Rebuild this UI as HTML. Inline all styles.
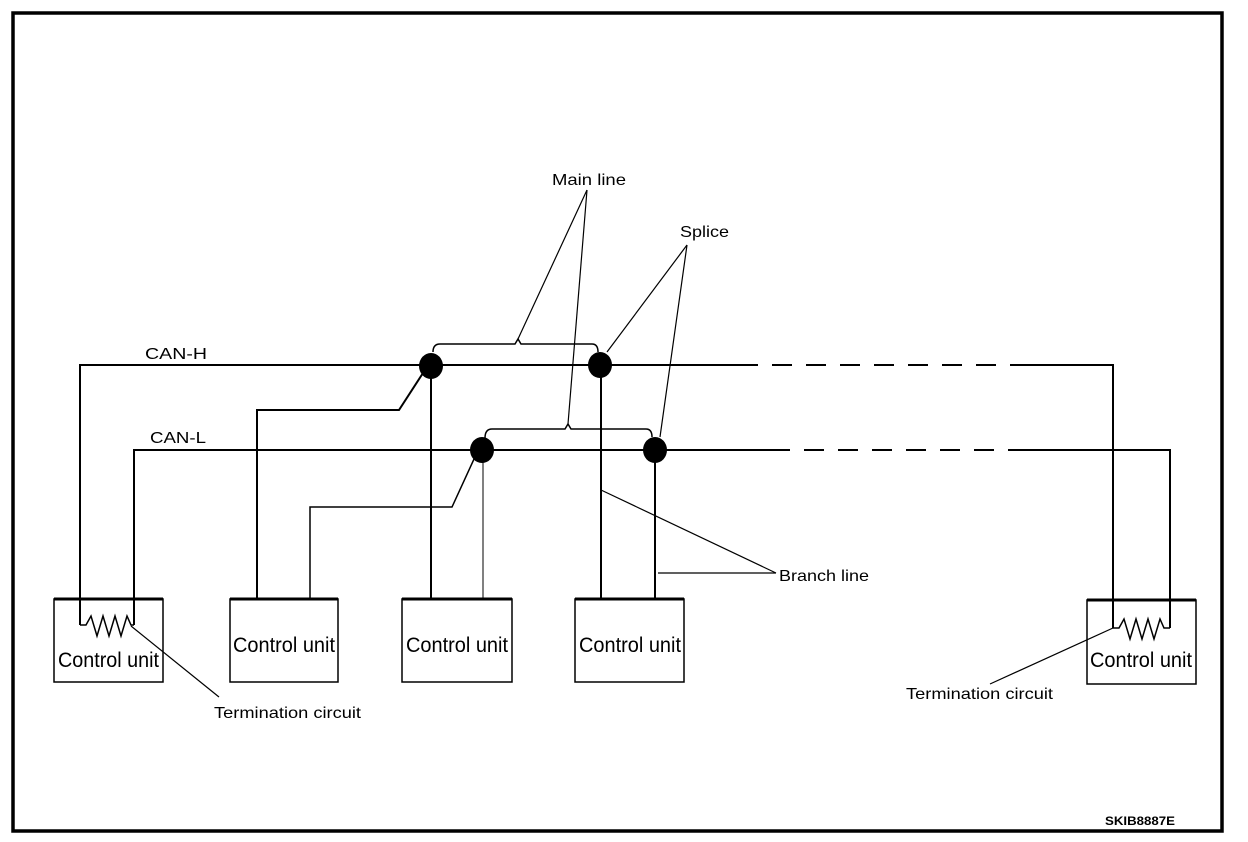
<!DOCTYPE html>
<html><head><meta charset="utf-8"><style>
html,body{margin:0;padding:0;background:#fff;}
svg{display:block;}
text{font-family:"Liberation Sans",Arial,sans-serif;fill:#000;}
</style></head><body>
<svg width="1248" height="842" viewBox="0 0 1248 842" xmlns="http://www.w3.org/2000/svg">
<rect x="13" y="13" width="1209" height="818" fill="none" stroke="#000" stroke-width="3.5"/>
<g stroke="#000" fill="none">
<polyline points="80,625 80,365 738,365" stroke-width="2"/>
<line x1="738" y1="365" x2="1020" y2="365" stroke-width="2" stroke-dasharray="20,14"/>
<polyline points="1020,365 1113,365 1113,628" stroke-width="2"/>
<polyline points="134,625 134,450 770,450" stroke-width="2"/>
<line x1="770" y1="450" x2="1025" y2="450" stroke-width="2" stroke-dasharray="20,14"/>
<polyline points="1025,450 1170,450 1170,628" stroke-width="2"/>
<polyline points="80,625 86,625 91,616 97,636 103,616 109,636 115,616 121,636 127,616 131,625 134,625" stroke-width="1.5"/>
<polyline points="1113,628 1119,628 1124,619 1130,639 1136,619 1142,639 1148,619 1154,639 1160,619 1164,628 1170,628" stroke-width="1.5"/>
<rect x="54" y="599" width="109" height="83" stroke-width="1.5"/>
<rect x="230" y="599" width="108" height="83" stroke-width="1.5"/>
<rect x="402" y="599" width="110" height="83" stroke-width="1.5"/>
<rect x="575" y="599" width="109" height="83" stroke-width="1.5"/>
<rect x="1087" y="600" width="109" height="84" stroke-width="1.5"/>
<g stroke-width="3">
<line x1="54" y1="599" x2="163" y2="599"/><line x1="230" y1="599" x2="338" y2="599"/>
<line x1="402" y1="599" x2="512" y2="599"/><line x1="575" y1="599" x2="684" y2="599"/>
<line x1="1087" y1="600" x2="1196" y2="600"/>
</g>
<polyline points="257,599 257,410 399,410 423,373" stroke-width="2"/>
<polyline points="310,599 310,507 452,507 474,459" stroke-width="1.5"/>
<line x1="431" y1="365" x2="431" y2="599" stroke-width="2"/>
<line x1="483" y1="450" x2="483" y2="599" stroke-width="1"/>
<line x1="601" y1="365" x2="601" y2="599" stroke-width="2"/>
<line x1="655" y1="450" x2="655" y2="599" stroke-width="2"/>
<path d="M433,352 Q433,344 440,344 L515,344 L518,339 L521,344 L592,344 Q598,344 598,352" stroke-width="1.5"/>
<path d="M485,438 Q485,429 492,429 L565,429 L568,424 L571,429 L646,429 Q652,429 652,437" stroke-width="1.5"/>
<g stroke-width="1.2">
<line x1="587" y1="190" x2="518" y2="339"/>
<line x1="587" y1="190" x2="568" y2="424"/>
<line x1="687" y1="245" x2="607" y2="352"/>
<line x1="687" y1="245" x2="660" y2="437"/>
<line x1="601" y1="490" x2="776" y2="573"/>
<line x1="658" y1="573" x2="776" y2="573"/>
<line x1="131" y1="626" x2="219" y2="697"/>
<line x1="1113" y1="628" x2="990" y2="684"/>
</g>
</g>
<g fill="#000">
<ellipse cx="431" cy="366" rx="12" ry="13"/>
<ellipse cx="600" cy="365" rx="12" ry="13"/>
<ellipse cx="482" cy="450" rx="12" ry="13"/>
<ellipse cx="655" cy="450" rx="12" ry="13"/>
</g>
<g font-size="16" lengthAdjust="spacingAndGlyphs">
<text x="145" y="359" textLength="62" lengthAdjust="spacingAndGlyphs">CAN-H</text>
<text x="150" y="443" textLength="56" lengthAdjust="spacingAndGlyphs">CAN-L</text>
<text x="552" y="185" textLength="74" lengthAdjust="spacingAndGlyphs">Main line</text>
<text x="680" y="237" textLength="49" lengthAdjust="spacingAndGlyphs">Splice</text>
<text x="779" y="581" textLength="90" lengthAdjust="spacingAndGlyphs">Branch line</text>
<text x="214" y="718" textLength="147" lengthAdjust="spacingAndGlyphs">Termination circuit</text>
<text x="906" y="699" textLength="147" lengthAdjust="spacingAndGlyphs">Termination circuit</text>
</g>
<g font-size="21">
<text x="58" y="667" textLength="101" lengthAdjust="spacingAndGlyphs">Control unit</text>
<text x="233" y="652" textLength="102" lengthAdjust="spacingAndGlyphs">Control unit</text>
<text x="406" y="652" textLength="102" lengthAdjust="spacingAndGlyphs">Control unit</text>
<text x="579" y="652" textLength="102" lengthAdjust="spacingAndGlyphs">Control unit</text>
<text x="1090" y="667" textLength="102" lengthAdjust="spacingAndGlyphs">Control unit</text>
</g>
<text x="1105" y="825" font-size="12" font-weight="bold" textLength="70" lengthAdjust="spacingAndGlyphs">SKIB8887E</text>
</svg>
</body></html>
